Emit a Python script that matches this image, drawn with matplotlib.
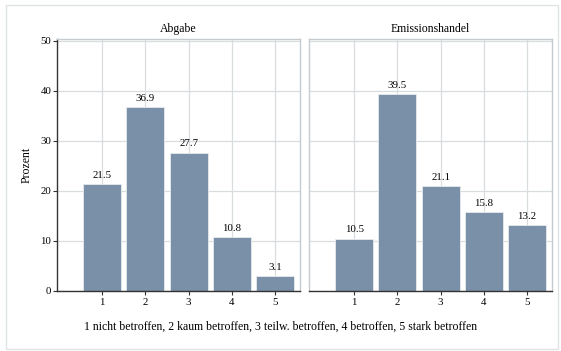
import matplotlib
matplotlib.use("Agg")
import matplotlib.pyplot as plt
from matplotlib.patches import Rectangle

plt.rcParams['font.family'] = ['Liberation Serif', 'DejaVu Serif']

# data
categories = [1, 2, 3, 4, 5]
panel_titles = ["Abgabe", "Emissionshandel"]
abgabe = [21.5, 36.9, 27.7, 10.8, 3.1]
emission = [10.5, 39.5, 21.1, 15.8, 13.2]
note = "1 nicht betroffen, 2 kaum betroffen, 3 teilw. betroffen, 4 betroffen, 5 stark betroffen"

bar_color = "#7a8fa8"
grid_color = "#d8dde0"
frame_color = "#c5cbce"

fig = plt.figure(figsize=(5.61, 3.51), dpi=100)
fig.patch.set_facecolor("white")

# outer box
fig.patches.append(Rectangle((6 / 561, 2 / 351), 552 / 561, 344 / 351,
                             transform=fig.transFigure, fill=False,
                             edgecolor="#dfe3e5", linewidth=1.0))

positions = [[57 / 561, 60 / 351, 243 / 561, 252 / 351],
             [309 / 561, 60 / 351, 243 / 561, 252 / 351]]

for k, (vals, title) in enumerate(zip([abgabe, emission], panel_titles)):
    ax = fig.add_axes(positions[k])
    ax.set_xlim(-0.05, 5.58)
    ax.set_ylim(0, 50.4)
    ax.set_axisbelow(True)
    ax.grid(True, color=grid_color, linewidth=0.9)
    ax.set_xticks(categories)
    ax.set_yticks([0, 10, 20, 30, 40, 50])
    bars = ax.bar(categories, vals, width=0.88, color=bar_color,
                  edgecolor="#e6ebee", linewidth=0.6)
    for x, v in zip(categories, vals):
        ax.text(x, v + 0.8, f"{v:.1f}", ha="center", va="bottom", fontsize=7.8)
    ax.set_title(title, fontsize=8.5, pad=5)
    for side in ["top", "right"]:
        ax.spines[side].set_color(frame_color)
        ax.spines[side].set_linewidth(1.0)
    ax.spines["bottom"].set_color("#333333")
    ax.spines["bottom"].set_linewidth(1.0)
    ax.tick_params(axis="x", length=3, width=0.8, color="#333333",
                   labelsize=7.8, pad=2)
    if k == 0:
        ax.spines["left"].set_color("#333333")
        ax.spines["left"].set_linewidth(1.0)
        ax.tick_params(axis="y", length=3, width=0.8, color="#333333",
                       labelsize=7.8, pad=1)
        ax.set_ylabel("Prozent", fontsize=8.5, labelpad=6)
    else:
        ax.spines["left"].set_color(frame_color)
        ax.spines["left"].set_linewidth(1.0)
        ax.tick_params(axis="y", length=0, labelleft=False)

fig.text(281 / 561, 1 - 327 / 351, note, ha="center", va="center", fontsize=8.5)

fig.savefig("out.png", dpi=100)
